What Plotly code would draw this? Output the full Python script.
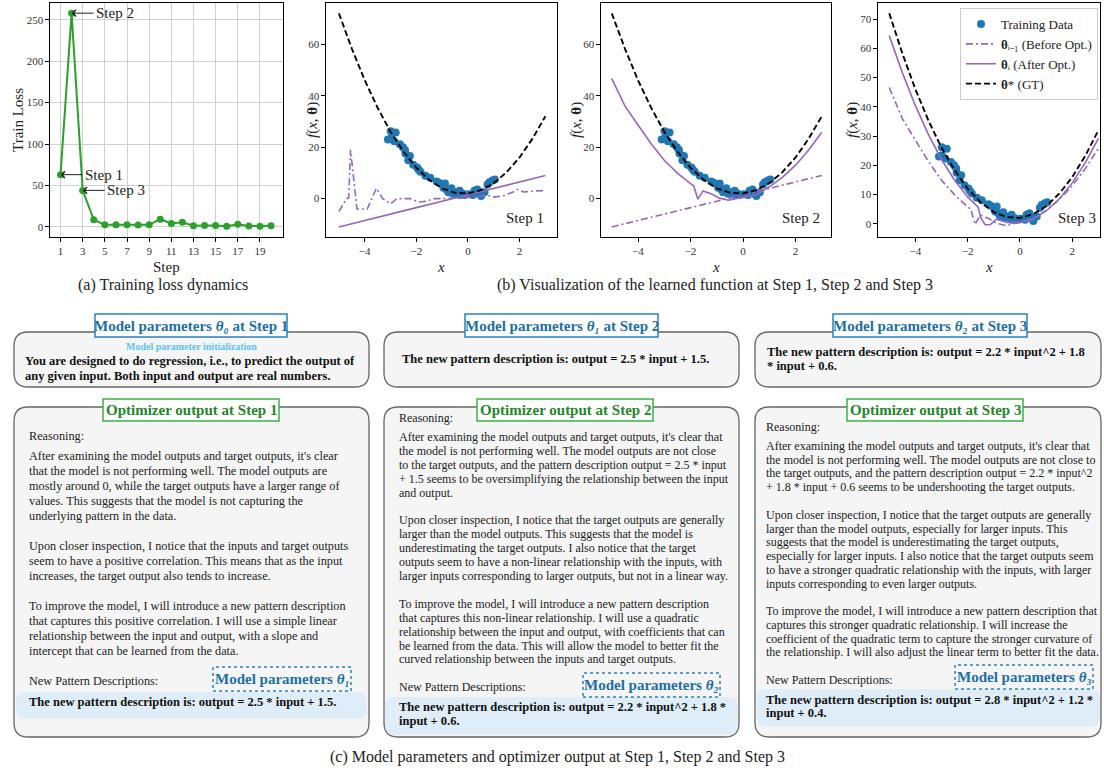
import plotly.graph_objects as go

W, H = 1104, 770
SERIF = "Liberation Serif, Times New Roman, serif"

# ---- data ----
steps = list(range(1, 21))
train_loss = [63, 258, 44, 8.5, 2.4, 2.4, 2.4, 2.2, 2.4, 9.2, 4.0, 5.6, 1.4, 1.6, 1.6, 0.6, 3.2, 1.0, 0.8, 1.2]

data_x = [-3.1, -2.99, -2.8, -2.99, -2.86, -2.64, -2.52, -2.44, -2.42, -2.25, -2.31, -2.12, -1.97,
          -1.91, -1.84, -1.65, -1.46, -1.21, -1.12, -0.95, -0.89, -0.83, -0.76, -0.64, -0.57, -0.44,
          -0.32, -0.32, -0.19, -0.13, 0.03, 0.19, 0.25, 0.36, 0.44, 0.51, 0.64, 0.76, 0.83, 0.95, 1.04]
data_y = [23.0, 26.2, 25.7, 23.4, 22.3, 21.1, 20.0, 18.9, 17.5, 16.6, 14.9, 13.2, 12.1,
          11.2, 10.4, 8.9, 8.1, 6.7, 6.2, 4.2, 5.9, 3.6, 2.5, 4.0, 1.9, 2.5,
          3.1, 1.4, 1.9, 1.4, 1.7, 1.4, 3.1, 3.6, 1.9, 1.0, 2.5, 5.5, 6.4, 7.0, 7.4]

gt_x = [-5, -4.5, -4, -3.5, -3, -2.5, -2, -1.5, -1, -0.5, 0, 0.5, 1, 1.5, 2, 2.5, 3]
gt_y = [72, 58.3, 46, 35.3, 26, 18.3, 12, 7.3, 4, 2.3, 2, 3.3, 6, 10.3, 16, 23.3, 32]

theta0_x = [-5.0, -4.7, -4.62, -4.55, -4.3, -3.9, -3.55, -3.3, -3.0, -2.75, -2.25, -1.9, -1.6,
            -1.35, -0.95, -0.5, 0.0, 0.4, 0.75, 1.0, 1.4, 1.75, 1.9, 2.15, 2.6, 3.0]
theta0_y = [-5, 0, 0.3, 19, -4, -4, 4, 0, -2, 0, 0, -1.3, -1,
            0, 0, 0.3, 0.6, 1.0, 1.3, 0.6, 1.2, 2.6, 3.6, 2.6, 2.8, 3.2]

theta1_x = [-5, -4, -3, -2.5, -2.4, -2, -1, 0, 1, 2, 3]
theta1_y = [-11, -8.5, -6, -4.75, -4.2, -3.5, -1, 1.5, 4, 6.5, 9]

theta2_x = [-5, -4.5, -4, -3.5, -3, -2.5, -2, -1.88, -1.72, -1.52, -1.2, -0.9, -0.55, -0.2, 0,
            0.5, 1, 1.5, 2, 2.5, 3]
theta2_y = [46.6, 36.0, 28.6, 21.3, 14.9, 9.9, 5.8, 5.0, -0.2, 3.0, 1.8, 0.2, -0.6, 0.3, 0.6,
            1.5, 4.6, 8.3, 13.0, 18.9, 25.8]

theta3_x = [-5, -4.5, -4, -3.5, -3, -2.5, -2, -1.6, -1.5, -1.33, -1.14, -0.9, -0.5, 0, 0.5, 1,
            1.5, 2, 2.5, 3]
theta3_y = [64.4, 51.7, 40.4, 30.5, 22.0, 14.9, 9.2, 5.7, 2.0, -0.3, -0.3, 1.6, 0.5, 0.4, 1.7,
            4.4, 8.5, 14.0, 20.9, 29.2]

step_labels = ["Step 1", "Step 2", "Step 3"]
theta_subs = ["₀", "₁", "₂", "₃"]

col1_reasoning = [
    "After examining the model outputs and target outputs, it's clear",
    "that the model is not performing well. The model outputs are",
    "mostly around 0, while the target outputs have a larger range of",
    "values. This suggests that the model is not capturing the",
    "underlying pattern in the data.",
    "",
    "Upon closer inspection, I notice that the inputs and target outputs",
    "seem to have a positive correlation. This means that as the input",
    "increases, the target output also tends to increase.",
    "",
    "To improve the model, I will introduce a new pattern description",
    "that captures this positive correlation. I will use a simple linear",
    "relationship between the input and output, with a slope and",
    "intercept that can be learned from the data.",
    "",
    "New Pattern Descriptions:",
]
col2_reasoning = [
    "After examining the model outputs and target outputs, it's clear that",
    "the model is not performing well. The model outputs are not close",
    "to the target outputs, and the pattern description output = 2.5 * input",
    "+ 1.5 seems to be oversimplifying the relationship between the input",
    "and output.",
    "",
    "Upon closer inspection, I notice that the target outputs are generally",
    "larger than the model outputs. This suggests that the model is",
    "underestimating the target outputs. I also notice that the target",
    "outputs seem to have a non-linear relationship with the inputs, with",
    "larger inputs corresponding to larger outputs, but not in a linear way.",
    "",
    "To improve the model, I will introduce a new pattern description",
    "that captures this non-linear relationship. I will use a quadratic",
    "relationship between the input and output, with coefficients that can",
    "be learned from the data. This will allow the model to better fit the",
    "curved relationship between the inputs and target outputs.",
    "",
    "New Pattern Descriptions:",
]
col3_reasoning = [
    "After examining the model outputs and target outputs, it's clear that",
    "the model is not performing well. The model outputs are not close to",
    "the target outputs, and the pattern description output = 2.2 * input^2",
    "+ 1.8 * input + 0.6 seems to be undershooting the target outputs.",
    "",
    "Upon closer inspection, I notice that the target outputs are generally",
    "larger than the model outputs, especially for larger inputs. This",
    "suggests that the model is underestimating the target outputs,",
    "especially for larger inputs. I also notice that the target outputs seem",
    "to have a stronger quadratic relationship with the inputs, with larger",
    "inputs corresponding to even larger outputs.",
    "",
    "To improve the model, I will introduce a new pattern description that",
    "captures this stronger quadratic relationship. I will increase the",
    "coefficient of the quadratic term to capture the stronger curvature of",
    "the relationship. I will also adjust the linear term to better fit the data.",
    "",
    "New Pattern Descriptions:",
]
params_before = [
    ["You are designed to do regression, i.e., to predict the output of",
     "any given input. Both input and output are real numbers."],
    ["The new pattern description is: output = 2.5 * input + 1.5."],
    ["The new pattern description is: output = 2.2 * input^2 + 1.8",
     "* input + 0.6."],
]
params_after = [
    ["The new pattern description is: output = 2.5 * input + 1.5."],
    ["The new pattern description is: output = 2.2 * input^2 + 1.8 *",
     "input + 0.6."],
    ["The new pattern description is: output = 2.8 * input^2 + 1.2 *",
     "input + 0.4."],
]

# ---- figure ----
fig = go.Figure()

PURPLE = "#9467bd"
fig.add_trace(go.Scatter(x=steps, y=train_loss, mode="lines+markers",
                         line=dict(color="#2ca02c", width=2), marker=dict(size=7),
                         xaxis="x", yaxis="y", showlegend=False))

curves = [(theta0_x, theta0_y, theta1_x, theta1_y),
          (theta1_x, theta1_y, theta2_x, theta2_y),
          (theta2_x, theta2_y, theta3_x, theta3_y)]
for i, (bx, by, axx, ayy) in enumerate(curves):
    xa, ya = f"x{i + 2}", f"y{i + 2}"
    leg = i == 2
    fig.add_trace(go.Scatter(x=data_x, y=data_y, mode="markers", name="Training Data",
                             marker=dict(color="#1f77b4", size=8), xaxis=xa, yaxis=ya, showlegend=leg))
    fig.add_trace(go.Scatter(x=bx, y=by, mode="lines", name="<b>θ</b>ᵢ₋₁ (Before Opt.)",
                             line=dict(color=PURPLE, width=1.6, dash="7px,3px,2px,3px"),
                             xaxis=xa, yaxis=ya, showlegend=leg))
    fig.add_trace(go.Scatter(x=axx, y=ayy, mode="lines", name="<b>θ</b>ᵢ (After Opt.)",
                             line=dict(color=PURPLE, width=1.6), xaxis=xa, yaxis=ya, showlegend=leg))
    fig.add_trace(go.Scatter(x=gt_x, y=gt_y, mode="lines", name="<b>θ</b>* (GT)",
                             line=dict(color="black", width=1.9, dash="6px,3px"),
                             xaxis=xa, yaxis=ya, showlegend=leg))

axis_style = dict(showline=True, linecolor="black", linewidth=1.2, mirror=True, ticks="outside",
                  ticklen=3.5, tickcolor="black", zeroline=False, showgrid=False,
                  tickfont=dict(family=SERIF, size=11, color="#333"))


def dom(a, b, size):
    return [a / size, b / size]


def vdom(top, bottom):
    return [1 - bottom / H, 1 - top / H]


fig.update_layout(
    width=W, height=H, margin=dict(l=0, r=0, t=0, b=0),
    paper_bgcolor="white", plot_bgcolor="white",
    font=dict(family=SERIF, color="#222"),
    xaxis=dict(axis_style, domain=dom(50, 283, W), range=[0.05, 21.08], tickvals=list(range(1, 20, 2)),
               showgrid=True, gridcolor="#d0d0d0", anchor="y"),
    yaxis=dict(axis_style, domain=vdom(3, 237), range=[-12.3, 270.3], tickvals=[0, 50, 100, 150, 200, 250],
               showgrid=True, gridcolor="#d0d0d0", anchor="x"),
    xaxis2=dict(axis_style, domain=dom(326, 557, W), range=[-5.5, 3.45], tickvals=[-4, -2, 0, 2], anchor="y2"),
    yaxis2=dict(axis_style, domain=vdom(3, 237), range=[-14.9, 76.0], tickvals=[0, 20, 40, 60], anchor="x2"),
    xaxis3=dict(axis_style, domain=dom(601, 831, W), range=[-5.41, 3.35], tickvals=[-4, -2, 0, 2], anchor="y3"),
    yaxis3=dict(axis_style, domain=vdom(3, 237), range=[-14.9, 76.0], tickvals=[0, 20, 40, 60], anchor="x3"),
    xaxis4=dict(axis_style, domain=dom(878, 1100, W), range=[-5.43, 3.06], tickvals=[-4, -2, 0, 2], anchor="y4"),
    yaxis4=dict(axis_style, domain=vdom(3, 237), range=[-4.5, 75.5], tickvals=list(range(0, 71, 10)), anchor="x4"),
    legend=dict(x=1098 / W, y=1 - 8 / H, xanchor="right", yanchor="top",
                bgcolor="rgba(255,255,255,0.9)", bordercolor="#cccccc", borderwidth=1,
                font=dict(family=SERIF, size=13, color="#222"), tracegroupgap=0),
)


def note(x, y, text, size, color="#222", xanchor="left", **kw):
    fig.add_annotation(x=x / W, y=1 - y / H, xref="paper", yref="paper", text=text, showarrow=False,
                       xanchor=xanchor, yanchor="middle",
                       font=dict(family=SERIF, size=size, color=color), **kw)


# arrows on loss curve
for s in (1, 2, 3):
    fig.add_annotation(x=s, y=train_loss[s - 1], xref="x", yref="y", text=f"Step {s}",
                       showarrow=True, ax=22, ay=0, xanchor="left", arrowhead=4, arrowsize=1.3,
                       arrowwidth=1, arrowcolor="#222", font=dict(family=SERIF, size=15, color="#222"))

# axis titles
note(18, 120, "Train Loss", 15, xanchor="center", textangle=-90)
note(166, 267, "Step", 15, xanchor="center")
for cx, ty in ((312, 120), (576, 120), (852, 120)):
    note(cx, ty, "<i>f</i>(<i>x</i>, <b>θ</b>)", 15, xanchor="center", textangle=-90)
for cx in (441, 716, 989):
    note(cx, 267, "<i>x</i>", 15, xanchor="center")
for rx, lab in zip((546, 822, 1098), step_labels):
    note(rx, 218, lab, 15, xanchor="right")

# captions
note(163, 285, "(a) Training loss dynamics", 16, xanchor="center")
note(715, 285, "(b) Visualization of the learned function at Step 1, Step 2 and Step 3", 16, xanchor="center")
note(557, 757, "(c) Model parameters and optimizer output at Step 1, Step 2 and Step 3", 16, xanchor="center")


# ---- text panels ----
def X(v):
    return v / W


def Y(v):
    return 1 - v / H


def rounded(x0, y0, x1, y1, r):
    return (f"M {X(x0 + r)},{Y(y0)} L {X(x1 - r)},{Y(y0)} Q {X(x1)},{Y(y0)} {X(x1)},{Y(y0 + r)} "
            f"L {X(x1)},{Y(y1 - r)} Q {X(x1)},{Y(y1)} {X(x1 - r)},{Y(y1)} "
            f"L {X(x0 + r)},{Y(y1)} Q {X(x0)},{Y(y1)} {X(x0)},{Y(y1 - r)} "
            f"L {X(x0)},{Y(y0 + r)} Q {X(x0)},{Y(y0)} {X(x0 + r)},{Y(y0)} Z")


def panel(x0, y0, x1, y1, fill, border, width=1.3, r=14):
    fig.add_shape(type="path", xref="paper", yref="paper", path=rounded(x0, y0, x1, y1, r),
                  fillcolor=fill, line=dict(color=border, width=width))


def label_box(x0, y0, x1, y1, border, dash="solid", fill="white"):
    fig.add_shape(type="rect", xref="paper", yref="paper", x0=X(x0), x1=X(x1), y0=Y(y1), y1=Y(y0),
                  line=dict(color=border, width=1.5, dash=dash), fillcolor=fill)


BLUE, BLUE_EDGE = "#1d6fa5", "#2a80c0"
GREEN, GREEN_EDGE = "#23862b", "#3cb043"
BOX_FILL, BOX_EDGE = "#f5f5f5", "#666666"
HL_FILL = "#deedf8"

cols = [
    dict(x0=14, x1=369, tx=27, size=12.25, start=456, step=15.0, reason_y=436, lines=col1_reasoning,
         mp_label=(95, 287), op_label=(103, 279), mp_text_y=[361, 376], mp_x=23,
         hl=(16, 367, 692, 719), hl_y=[702], dot=(213, 351, 667, 691)),
    dict(x0=384, x1=739, tx=397, size=12, start=437, step=13.9, reason_y=418, lines=col2_reasoning,
         mp_label=(465, 658), op_label=(477, 653), mp_text_y=[359], mp_x=400,
         hl=(385, 738, 697, 735), hl_y=[707, 721], dot=(583, 720, 673, 697)),
    dict(x0=755, x1=1101, tx=764, size=12, start=446, step=13.75, reason_y=427, lines=col3_reasoning,
         mp_label=(833, 1027), op_label=(847, 1023), mp_text_y=[352, 366], mp_x=765,
         hl=(757, 1100, 689, 727), hl_y=[700, 713], dot=(955, 1093, 665, 689)),
]

for i, c in enumerate(cols):
    panel(c["x0"], 332, c["x1"], 387, BOX_FILL, BOX_EDGE)
    panel(c["x0"], 407, c["x1"], 737, BOX_FILL, BOX_EDGE)
    hx0, hx1, hy0, hy1 = c["hl"]
    panel(hx0, hy0, hx1, hy1, HL_FILL, HL_FILL, width=0, r=10)
    lx0, lx1 = c["mp_label"]
    label_box(lx0, 314, lx1, 337, BLUE_EDGE)
    ox0, ox1 = c["op_label"]
    label_box(ox0, 399, ox1, 421, GREEN_EDGE)
    dx0, dx1, dy0, dy1 = c["dot"]
    label_box(dx0, dy0, dx1, dy1, BLUE_EDGE, dash="dot", fill="rgba(0,0,0,0)")

    note((lx0 + lx1) / 2, 325.5, f"<b>Model parameters <i>θ{theta_subs[i]}</i> at {step_labels[i]}</b>",
         15, color=BLUE, xanchor="center")
    note((ox0 + ox1) / 2, 410, f"<b>Optimizer output at {step_labels[i]}</b>", 15, color=GREEN, xanchor="center")
    note((dx0 + dx1) / 2, (dy0 + dy1) / 2, f"<b>Model parameters <i>θ{theta_subs[i + 1]}</i></b>",
         15, color=BLUE, xanchor="center")

    note(c["tx"], c["reason_y"], "Reasoning:", c["size"])
    for k, line in enumerate(c["lines"]):
        if line:
            note(c["tx"], c["start"] + k * c["step"], line, c["size"])
    for yy, line in zip(c["mp_text_y"], params_before[i]):
        note(c["mp_x"], yy, f"<b>{line}</b>", 12.5, color="#111")
    for yy, line in zip(c["hl_y"], params_after[i]):
        note(c["tx"], yy, f"<b>{line}</b>", 12.5, color="#111")

note(191, 346, "<b>Model parameter initialization</b>", 10, color="#5bc3f2", xanchor="center")

fig.write_html("out.html", config={"displayModeBar": False},
               post_script="document.body.style.margin='0px';")
